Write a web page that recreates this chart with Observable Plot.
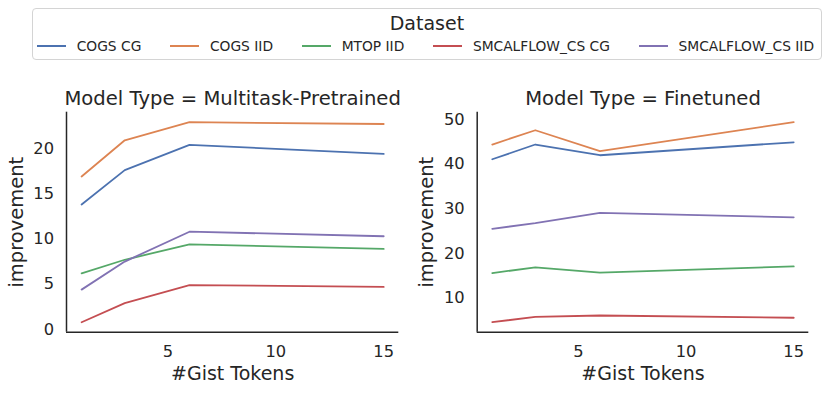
<!DOCTYPE html>
<html>
<head>
<meta charset="utf-8">
<script src="https://cdn.jsdelivr.net/npm/d3@7"></script>
<script src="https://cdn.jsdelivr.net/npm/@observablehq/plot@0.6"></script>
<style>
  body { margin: 0; background: #fff; font-family: "DejaVu Sans", sans-serif; color: #262626; }
  #chart { position: relative; width: 831px; height: 393px; overflow: hidden; }
  #legend { position: absolute; left: 31.7px; top: 8.3px; width: 790.5px; height: 52px; border: 1px solid #d4d4d4; border-radius: 4px; box-sizing: border-box; }
  #legend .ltitle { position: absolute; left: 0; right: 0; top: 4.5px; text-align: center; font-size: 19px; line-height: 19px; }
  #legend .lrow { position: absolute; left: 4px; top: 29px; display: flex; gap: 28.6px; font-size: 13.8px; line-height: 16px; white-space: nowrap; }
  #legend .item { display: flex; align-items: center; }
  #legend .swatch { width: 29px; height: 2px; margin-right: 11px; }
  .panel { position: absolute; top: 0; }
</style>
</head>
<body>
<div id="chart">
  <div id="legend"><div class="ltitle">Dataset</div><div class="lrow"></div></div>
</div>
<script>
// ---- data ----
const gistTokens = [1, 3, 6, 15];
const seriesNames = ["COGS CG", "COGS IID", "MTOP IID", "SMCALFLOW_CS CG", "SMCALFLOW_CS IID"];
const seriesColors = ["#4C72B0", "#DD8452", "#55A868", "#C44E52", "#8172B3"];

// Model Type = Multitask-Pretrained
const mtCogsCG      = [13.8, 17.6, 20.4, 19.4];
const mtCogsIID     = [16.9, 20.9, 22.9, 22.7];
const mtMtopIID     = [6.2, 7.7, 9.4, 8.9];
const mtSmcalCG     = [0.8, 2.9, 4.9, 4.7];
const mtSmcalIID    = [4.4, 7.5, 10.8, 10.3];

// Model Type = Finetuned
const ftCogsCG      = [41.1, 44.4, 42.0, 44.9];
const ftCogsIID     = [44.4, 47.6, 42.9, 49.4];
const ftMtopIID     = [15.6, 16.9, 15.7, 17.1];
const ftSmcalCG     = [4.6, 5.8, 6.1, 5.6];
const ftSmcalIID    = [25.5, 26.8, 29.1, 28.1];

const panelTitles = ["Model Type = Multitask-Pretrained", "Model Type = Finetuned"];
const yTicksMT = [0, 5, 10, 15, 20];
const yTicksFT = [10, 20, 30, 40, 50];
const xTicks = [5, 10, 15];
const xLabel = "#Gist Tokens";
const yLabel = "improvement";

// ---- build tables ----
function toRows(seriesValues) {
  const rows = [];
  seriesValues.forEach((vals, i) => {
    vals.forEach((v, j) => rows.push({series: seriesNames[i], x: gistTokens[j], y: v}));
  });
  return rows;
}
const mtRows = toRows([mtCogsCG, mtCogsIID, mtMtopIID, mtSmcalCG, mtSmcalIID]);
const ftRows = toRows([ftCogsCG, ftCogsIID, ftMtopIID, ftSmcalCG, ftSmcalIID]);

function padded(rows) {
  const [lo, hi] = d3.extent(rows, d => d.y);
  const m = (hi - lo) * 0.05;
  return [lo - m, hi + m];
}
const xDomain = [0.3, 15.7];
const ink = "#262626";

function panel(rows, title, yTicks, opts) {
  const yDomain = padded(rows);
  return Plot.plot({
    width: opts.width,
    height: 393,
    marginTop: 111.7,
    marginBottom: 61.3,
    marginLeft: opts.marginLeft,
    marginRight: opts.marginRight,
    style: {fontFamily: "DejaVu Sans", fontSize: "16px", color: ink, background: "transparent", overflow: "visible"},
    x: {domain: xDomain},
    y: {domain: yDomain},
    color: {domain: seriesNames, range: seriesColors},
    marks: [
      Plot.axisX({ticks: xTicks, tickSize: 0, tickPadding: 13, label: null, fontSize: 16.3}),
      Plot.axisY({ticks: yTicks, tickSize: 0, tickPadding: 12.5, label: null, fontSize: 16.3}),
      Plot.line(rows, {x: "x", y: "y", z: "series", stroke: "series", strokeWidth: 1.8}),
      Plot.ruleX([xDomain[0]], {stroke: ink, strokeWidth: 1.5}),
      Plot.ruleY([yDomain[0]], {stroke: ink, strokeWidth: 1.5}),
      Plot.text([title], {text: d => d, frameAnchor: "top", lineAnchor: "middle", textAnchor: "middle", dy: -13.4, fontSize: 19.6, fill: ink}),
      Plot.text([yLabel], {text: d => d, frameAnchor: "left", lineAnchor: "middle", textAnchor: "middle", rotate: -90, dx: opts.yLabelDx, fontSize: 19.5, fill: ink}),
      Plot.text([xLabel], {text: d => d, frameAnchor: "bottom", lineAnchor: "middle", textAnchor: "middle", dy: 41.6, fontSize: 19, fill: ink})
    ]
  });
}

const chart = document.getElementById("chart");
const left = panel(mtRows, panelTitles[0], yTicksMT, {width: 415, marginLeft: 66, marginRight: 16.7, yLabelDx: -49.3});
left.classList.add("panel"); left.style.left = "0px";
chart.appendChild(left);
const right = panel(ftRows, panelTitles[1], yTicksFT, {width: 416, marginLeft: 61.7, marginRight: 22.7, yLabelDx: -50});
right.classList.add("panel"); right.style.left = "415px";
chart.appendChild(right);

// ---- legend ----
const row = document.querySelector("#legend .lrow");
seriesNames.forEach((name, i) => {
  const item = document.createElement("div");
  item.className = "item";
  const sw = document.createElement("span");
  sw.className = "swatch";
  sw.style.background = seriesColors[i];
  const label = document.createElement("span");
  label.textContent = name;
  item.appendChild(sw);
  item.appendChild(label);
  row.appendChild(item);
});
</script>
</body>
</html>
